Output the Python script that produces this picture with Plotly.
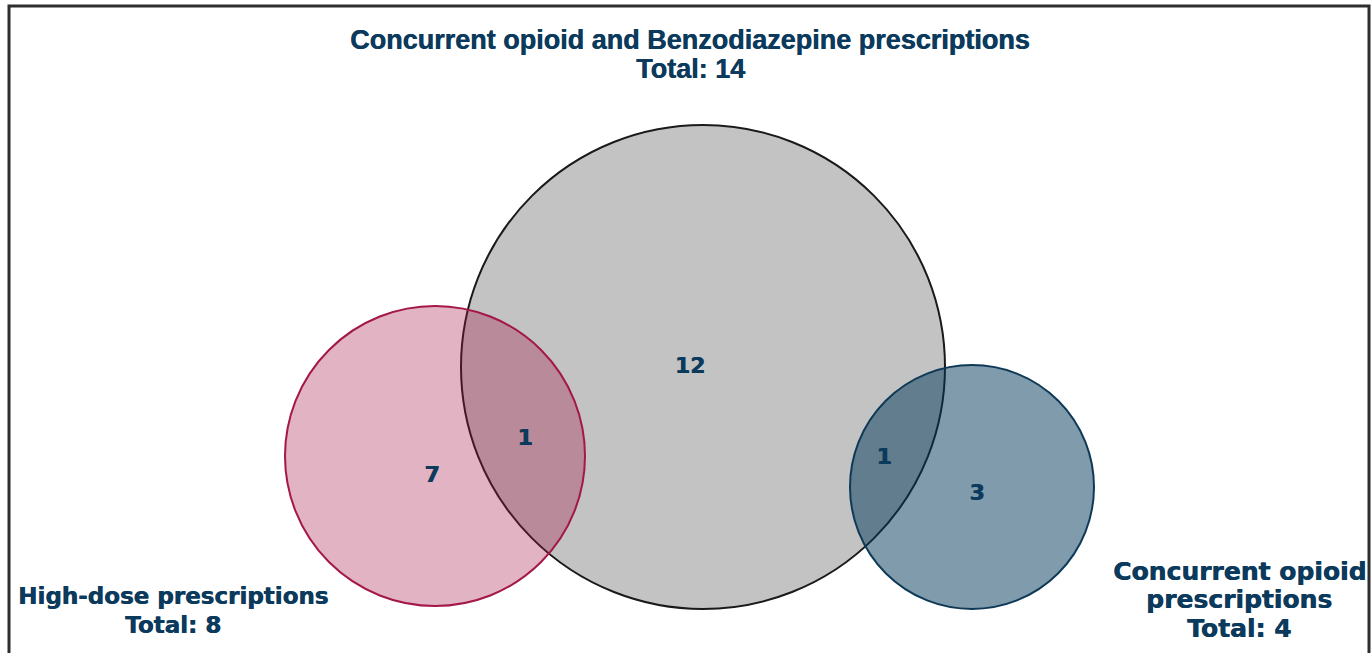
import plotly.graph_objects as go

# --- data ---
set_names = ["High-dose prescriptions",
             "Concurrent opioid and Benzodiazepine prescriptions",
             "Concurrent opioid prescriptions"]
set_totals = [8, 14, 4]
region_names = ["High-dose only", "High-dose & Benzo", "Benzo only", "Benzo & Opioid", "Opioid only"]
region_counts = [7, 1, 12, 1, 3]

# --- layout geometry (pixel space of the 1372x653 page) ---
W, H = 1372, 653
big = (703, 367, 242)
pink = (435, 456, 150)
blue = (972, 487, 122)
region_xy = [(432, 476), (525, 439), (690, 367), (884, 458), (977, 494)]

NAVY = "#0B3A5C"
HEAVY = f"0.6px 0 0 {NAVY}"   # fake a heavier weight

fig = go.Figure()

fig.add_trace(go.Scatter(
    x=[p[0] for p in region_xy], y=[p[1] for p in region_xy],
    mode="text", text=[str(v) for v in region_counts],
    hovertext=region_names, hoverinfo="text",
    textfont=dict(family="DejaVu Sans", size=22, color=NAVY, weight="bold", shadow=HEAVY),
    showlegend=False,
))


def circ(c, fill, line, width):
    cx, cy, r = c
    return dict(type="circle", xref="x", yref="y", layer="below",
                x0=cx - r, x1=cx + r, y0=cy - r, y1=cy + r,
                fillcolor=fill, line=dict(color=line, width=width))


shapes = [
    circ(big, "#C3C3C3", "#1A1A1A", 2),
    circ(pink, "rgba(164,18,64,0.32)", "#A3174A", 2),
    circ(blue, "rgba(0,55,90,0.5)", "#0E3A58", 2),
    dict(type="rect", xref="x", yref="y", x0=9, x1=1369, y0=6, y1=720,
         fillcolor="rgba(0,0,0,0)", line=dict(color="#2E2E2E", width=3)),
]


def label(x, y, text, size, family, shadow="none"):
    return dict(x=x, y=y, xref="x", yref="y", showarrow=False, text=text,
                font=dict(family=family, size=size, color=NAVY, weight="bold", shadow=shadow))


annotations = [
    label(690, 40, set_names[1], 27, "Liberation Sans", HEAVY),
    label(690, 69, f"Total: {set_totals[1]}", 27, "Liberation Sans", HEAVY),
    label(173, 596, set_names[0], 23, "DejaVu Sans", HEAVY),
    label(173, 625, f"Total: {set_totals[0]}", 23, "DejaVu Sans", HEAVY),
    label(1239, 571, " ".join(set_names[2].split()[:2]), 25, "DejaVu Sans", HEAVY),
    label(1239, 599, set_names[2].split()[2], 25, "DejaVu Sans", HEAVY),
    label(1239, 628, f"Total: {set_totals[2]}", 25, "DejaVu Sans", HEAVY),
]

fig.update_layout(
    width=W, height=H, margin=dict(l=0, r=0, t=0, b=0),
    paper_bgcolor="white", plot_bgcolor="white",
    xaxis=dict(range=[0, W], visible=False, fixedrange=True),
    yaxis=dict(range=[H, 0], visible=False, fixedrange=True),
    shapes=shapes, annotations=annotations,
)

fig.write_html("out.html", config={"displayModeBar": False},
               post_script="document.body.style.margin='0';document.body.style.overflow='hidden';")
